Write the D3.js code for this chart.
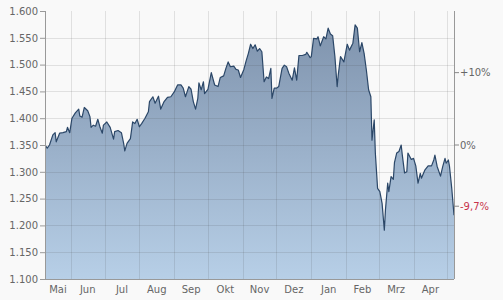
<!DOCTYPE html>
<html>
<head>
<meta charset="utf-8">
<script src="https://cdn.jsdelivr.net/npm/d3@7"></script>
<style>
  html, body { margin: 0; padding: 0; background: #f9f9f9; }
  svg { display: block; font-family: "DejaVu Sans", Verdana, sans-serif; }
</style>
</head>
<body>
<div id="chart"></div>
<script>
var svgWidth = 503;
var svgHeight = 300;

var margin = { top: 11, right: 49, bottom: 21, left: 45 };
var width = svgWidth - margin.left - margin.right;
var height = svgHeight - margin.top - margin.bottom;

// index closes
var dates = [
  "2019-05-09","2019-05-11","2019-05-13","2019-05-16","2019-05-18","2019-05-19","2019-05-22","2019-05-25",
  "2019-05-28","2019-05-29","2019-05-31","2019-06-02","2019-06-05","2019-06-08","2019-06-09","2019-06-11",
  "2019-06-13","2019-06-16","2019-06-18","2019-06-19","2019-06-21","2019-06-23","2019-06-25","2019-06-27",
  "2019-06-29","2019-06-30","2019-07-03","2019-07-06","2019-07-09","2019-07-10","2019-07-13","2019-07-16",
  "2019-07-18","2019-07-19","2019-07-21","2019-07-24","2019-07-26","2019-07-28","2019-07-30","2019-08-01",
  "2019-08-03","2019-08-06","2019-08-09","2019-08-10","2019-08-13","2019-08-15","2019-08-18","2019-08-20",
  "2019-08-23","2019-08-26","2019-08-29","2019-09-01","2019-09-04","2019-09-07","2019-09-09","2019-09-11",
  "2019-09-14","2019-09-16","2019-09-18","2019-09-20","2019-09-22","2019-09-23","2019-09-25","2019-09-27",
  "2019-09-28","2019-10-01","2019-10-04","2019-10-07","2019-10-10","2019-10-12","2019-10-15","2019-10-17",
  "2019-10-19","2019-10-21","2019-10-24","2019-10-26","2019-10-28","2019-10-30","2019-11-02","2019-11-04",
  "2019-11-06","2019-11-08","2019-11-10","2019-11-12","2019-11-14","2019-11-16","2019-11-18","2019-11-20",
  "2019-11-22","2019-11-24","2019-11-26","2019-11-27","2019-11-29","2019-12-01","2019-12-03","2019-12-06",
  "2019-12-08","2019-12-10","2019-12-12","2019-12-15","2019-12-17","2019-12-19","2019-12-21","2019-12-24",
  "2019-12-27","2019-12-28","2019-12-31","2020-01-01","2020-01-03","2020-01-06","2020-01-07","2020-01-09",
  "2020-01-12","2020-01-14","2020-01-16","2020-01-18","2020-01-20","2020-01-22","2020-01-24","2020-01-25",
  "2020-01-27","2020-01-30","2020-02-02","2020-02-04","2020-02-07","2020-02-09","2020-02-11","2020-02-13",
  "2020-02-15","2020-02-17","2020-02-19","2020-02-21","2020-02-23","2020-02-24","2020-02-26","2020-02-27",
  "2020-02-29","2020-03-02","2020-03-04","2020-03-06","2020-03-07","2020-03-09","2020-03-10","2020-03-12",
  "2020-03-14","2020-03-15","2020-03-17","2020-03-19","2020-03-21","2020-03-22","2020-03-24","2020-03-26",
  "2020-03-27","2020-03-30","2020-04-01","2020-04-03","2020-04-05","2020-04-07","2020-04-08","2020-04-11",
  "2020-04-14","2020-04-17","2020-04-19","2020-04-20","2020-04-22","2020-04-25","2020-04-27","2020-04-29",
  "2020-04-30","2020-05-02","2020-05-03","2020-05-05","2020-05-07"
];
var values = [
  1350,1344,1350,1369,1373,1356,1372,1373,
  1375,1383,1373,1400,1410,1417,1404,1402,
  1420,1414,1403,1383,1387,1385,1398,1383,
  1372,1387,1393,1383,1361,1375,1377,1373,
  1353,1339,1353,1362,1393,1390,1398,1384,
  1390,1400,1412,1431,1440,1428,1441,1417,
  1431,1439,1440,1449,1462,1462,1456,1440,
  1459,1454,1431,1417,1437,1466,1453,1468,
  1446,1454,1485,1462,1459,1476,1479,1493,
  1505,1496,1497,1491,1490,1476,1491,1507,
  1521,1538,1530,1537,1525,1530,1524,1468,
  1477,1474,1493,1437,1456,1456,1459,1493,
  1499,1496,1484,1471,1494,1471,1517,1517,
  1519,1523,1513,1515,1549,1548,1552,1535,
  1552,1548,1568,1557,1554,1515,1459,1481,
  1515,1505,1538,1527,1540,1574,1568,1524,
  1541,1521,1490,1453,1440,1359,1397,1335,
  1269,1263,1241,1191,1229,1279,1263,1291,
  1286,1317,1335,1338,1350,1331,1298,1300,
  1335,1323,1325,1311,1279,1297,1288,1303,
  1311,1311,1322,1331,1310,1292,1310,1325,
  1316,1322,1310,1269,1219
];

var xStart = "2019-05-09";
var xEnd = "2020-05-07";
var yTicks = [1100, 1150, 1200, 1250, 1300, 1350, 1400, 1450, 1500, 1550, 1600];
var pctTicks = [10, 0];
var monthNames = ["Jan", "Feb", "Mrz", "Apr", "Mai", "Jun", "Jul", "Aug", "Sep", "Okt", "Nov", "Dez"];

var parseDate = d3.timeParse("%Y-%m-%d");
var data = dates.map(function(d, i) {
  return { date: parseDate(d), close: values[i] };
});

var de = d3.formatLocale({ decimal: ",", thousands: ".", grouping: [3], currency: ["", " €"], minus: "-" });
var fmtInt = de.format(",d");
var fmtPct = de.format(".1f");

var svg = d3.select("#chart").append("svg")
  .attr("width", svgWidth)
  .attr("height", svgHeight);

var chartGroup = svg.append("g")
  .attr("transform", `translate(${margin.left}, ${margin.top})`);

var x0 = parseDate(xStart), x1 = parseDate(xEnd);
var xScale = d3.scaleTime().domain([x0, x1]).range([0, width]);
var yScale = d3.scaleLinear().domain([1100, 1600]).range([height, 0]);

var base = values[0];
var last = values[values.length - 1];
var yPct = function(p) { return yScale(base * (1 + p / 100)); };

// area gradient
var grad = svg.append("defs").append("linearGradient")
  .attr("id", "areaFill")
  .attr("gradientUnits", "userSpaceOnUse")
  .attr("x1", 0).attr("y1", 0).attr("x2", 0).attr("y2", height);
grad.append("stop").attr("offset", "0%").attr("stop-color", "#7c90aa");
grad.append("stop").attr("offset", "100%").attr("stop-color", "#b7cfe7");

var area = d3.area()
  .x(d => xScale(d.date))
  .y0(height)
  .y1(d => yScale(d.close));

var line = d3.line()
  .x(d => xScale(d.date))
  .y(d => yScale(d.close));

chartGroup.append("path")
  .datum(data)
  .attr("d", area)
  .attr("fill", "url(#areaFill)");

// grid on top of the area, translucent
var months = d3.timeMonth.range(d3.timeMonth.ceil(x0), x1);
chartGroup.append("g")
  .selectAll("line")
  .data(months)
  .enter()
  .append("line")
  .attr("x1", d => Math.round(xScale(d)) + 0.5)
  .attr("x2", d => Math.round(xScale(d)) + 0.5)
  .attr("y1", 0)
  .attr("y2", height)
  .attr("stroke", "rgba(60,60,60,0.13)");

chartGroup.append("g")
  .selectAll("line")
  .data(yTicks.slice(1, -1))
  .enter()
  .append("line")
  .attr("x1", 0)
  .attr("x2", width)
  .attr("y1", d => Math.round(yScale(d)) + 0.5)
  .attr("y2", d => Math.round(yScale(d)) + 0.5)
  .attr("stroke", "rgba(60,60,60,0.13)");

chartGroup.append("path")
  .datum(data)
  .attr("d", line)
  .attr("fill", "none")
  .attr("stroke", "#2b4768")
  .attr("stroke-width", 1.2)
  .attr("stroke-linejoin", "round");

// left axis
var leftAxis = d3.axisLeft(yScale)
  .tickValues(yTicks)
  .tickFormat(fmtInt)
  .tickSize(5)
  .tickPadding(2);

var yAxisG = chartGroup.append("g").call(leftAxis);
yAxisG.select(".domain").attr("stroke", "#999").attr("d", `M0.5,0V${height}`);
yAxisG.selectAll(".tick line").attr("stroke", "#999");
yAxisG.selectAll("text")
  .attr("fill", "#666")
  .style("font-size", "10px")
  .style("font-family", "DejaVu Sans");

// bottom axis line + month labels centred in each month
chartGroup.append("line")
  .attr("x1", 0).attr("x2", width)
  .attr("y1", height + 0.5).attr("y2", height + 0.5)
  .attr("stroke", "#999");

var monthSpans = d3.timeMonth.range(d3.timeMonth.floor(x0), x1)
  .map(function(m) {
    var a = m < x0 ? x0 : m;
    var b = d3.timeMonth.offset(m, 1);
    if (b > x1) b = x1;
    return { m: m, a: a, b: b };
  })
  .filter(d => (d.b - d.a) > 10 * 864e5);

chartGroup.append("g")
  .selectAll("text")
  .data(monthSpans)
  .enter()
  .append("text")
  .attr("x", d => (xScale(d.a) + xScale(d.b)) / 2)
  .attr("y", height + 14)
  .attr("text-anchor", "middle")
  .attr("fill", "#666")
  .style("font-size", "10px")
  .text(d => monthNames[d.m.getMonth()]);

// right percentage axis
var rightG = chartGroup.append("g")
  .attr("transform", `translate(${width}, 0)`);

rightG.append("line")
  .attr("x1", 0.5).attr("x2", 0.5)
  .attr("y1", 0).attr("y2", height)
  .attr("stroke", "#999");

var pctG = rightG.selectAll("g.pct")
  .data(pctTicks)
  .enter()
  .append("g")
  .attr("class", "pct")
  .attr("transform", d => `translate(0, ${yPct(d)})`);

pctG.append("line")
  .attr("x1", 0).attr("x2", 5)
  .attr("stroke", "#888");

pctG.append("text")
  .attr("x", 6)
  .attr("dy", "0.35em")
  .attr("fill", "#666")
  .style("font-size", "10px")
  .text(d => d === 0 ? "0%" : "+" + d + "%");

var lastPct = (last / base - 1) * 100;
var lastG = rightG.append("g")
  .attr("transform", `translate(0, ${yScale(last) - 9})`);

lastG.append("line")
  .attr("x1", 0).attr("x2", 5)
  .attr("stroke", "#888");

lastG.append("text")
  .attr("x", 6)
  .attr("dy", "0.35em")
  .attr("fill", "#c8334a")
  .style("font-size", "10px")
  .text(fmtPct(lastPct).replace("\u2212", "-") + "%");
</script>
</body>
</html>
